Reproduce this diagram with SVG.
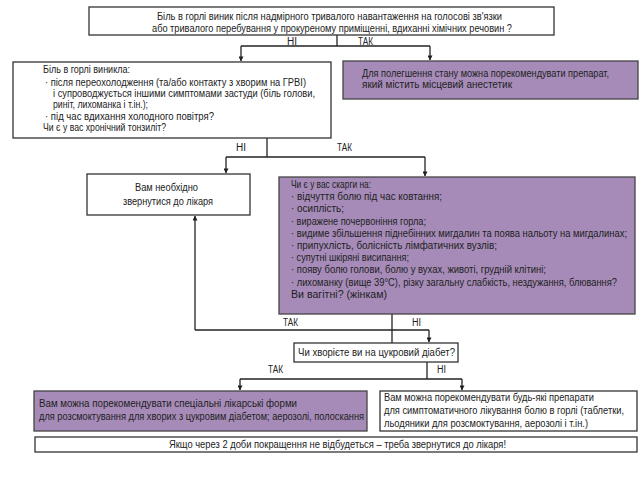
<svg xmlns="http://www.w3.org/2000/svg" width="640" height="479" viewBox="0 0 640 479">
<style>
.box{fill:#fff;stroke:#333;stroke-width:1.3}
.pbox{fill:#a68bb8;stroke:#444;stroke-width:1.3}
text{font-family:"Liberation Sans Narrow","Liberation Sans",Arial,sans-serif;font-size:10px;fill:#222}
.lbl{font-size:10px}
.ln{fill:none;stroke:#222;stroke-width:1.3}
</style>
<defs>
<marker id="ah" viewBox="0 0 6 6" refX="5.5" refY="3" markerWidth="5" markerHeight="5" orient="auto" markerUnits="userSpaceOnUse">
<path d="M0,0 L6,3 L0,6 z" fill="#222"/>
</marker>
</defs>
<rect width="640" height="479" fill="#fff"/>
<g id="connectors">
<path class="ln" d="M337,35 V46"/>
<path class="ln" d="M241,46 H430"/>
<path class="ln" d="M241,46 V61" marker-end="url(#ah)"/>
<path class="ln" d="M430,46 V60" marker-end="url(#ah)"/>
<path class="ln" d="M267,138 V157"/>
<path class="ln" d="M226,157 H425"/>
<path class="ln" d="M226,157 V173" marker-end="url(#ah)"/>
<path class="ln" d="M425,157 V176" marker-end="url(#ah)"/>
<path class="ln" d="M392,314 V343"/>
<path class="ln" d="M195,330 H429"/>
<path class="ln" d="M195,330 V216" marker-end="url(#ah)"/>
<path class="ln" d="M429,330 V342" marker-end="url(#ah)"/>
<path class="ln" d="M427,362 V379"/>
<path class="ln" d="M240,379 H462"/>
<path class="ln" d="M240,379 V390" marker-end="url(#ah)"/>
<path class="ln" d="M462,379 V390" marker-end="url(#ah)"/>
<text class="lbl" x="287" y="45" textLength="10" lengthAdjust="spacingAndGlyphs">НІ</text>
<text class="lbl" x="358" y="45" textLength="15" lengthAdjust="spacingAndGlyphs">ТАК</text>
<text class="lbl" x="236" y="151" textLength="10" lengthAdjust="spacingAndGlyphs">НІ</text>
<text class="lbl" x="337" y="151" textLength="15" lengthAdjust="spacingAndGlyphs">ТАК</text>
<text class="lbl" x="283" y="326" textLength="15" lengthAdjust="spacingAndGlyphs">ТАК</text>
<text class="lbl" x="412" y="326" textLength="9" lengthAdjust="spacingAndGlyphs">НІ</text>
<text class="lbl" x="268" y="373" textLength="15" lengthAdjust="spacingAndGlyphs">ТАК</text>
<text class="lbl" x="437" y="373" textLength="9" lengthAdjust="spacingAndGlyphs">НІ</text>
</g>
<g id="q1">
<rect class="box" x="89" y="7" width="465" height="28"/>
<text x="157" y="20" textLength="345" lengthAdjust="spacingAndGlyphs">Біль в горлі виник після надмірного тривалого навантаження на голосові зв'язки</text>
<text x="152" y="32" textLength="360" lengthAdjust="spacingAndGlyphs">або тривалого перебування у прокуреному приміщенні, вдиханні хімічних речовин ?</text>
</g>
<g id="anesthetic">
<rect class="pbox" x="343" y="61" width="295" height="38"/>
<text x="362" y="77" textLength="247" lengthAdjust="spacingAndGlyphs">Для полегшення стану можна порекомендувати препарат,</text>
<text x="362" y="88" textLength="150" lengthAdjust="spacingAndGlyphs">який містить місцевий анестетик</text>
</g>
<g id="q2">
<rect class="box" x="13" y="62" width="318" height="76"/>
<text x="43" y="73" textLength="87" lengthAdjust="spacingAndGlyphs">Біль в горлі виникла:</text>
<text x="45" y="86" textLength="261" lengthAdjust="spacingAndGlyphs">· після переохолодження (та/або контакту з хворим на ГРВІ)</text>
<text x="53" y="97" textLength="262" lengthAdjust="spacingAndGlyphs">і супроводжується іншими симптомами застуди (біль голови,</text>
<text x="53" y="108" textLength="95" lengthAdjust="spacingAndGlyphs">риніт, лихоманка і т.ін.);</text>
<text x="45" y="120" textLength="169" lengthAdjust="spacingAndGlyphs">· під час вдихання холодного повітря?</text>
<text x="43" y="131" textLength="123" lengthAdjust="spacingAndGlyphs">Чи є у вас хронічний тонзиліт?</text>
</g>
<g id="doctor">
<rect class="box" x="87" y="174" width="163" height="41"/>
<text x="135" y="191" textLength="63" lengthAdjust="spacingAndGlyphs">Вам необхідно</text>
<text x="123" y="205" textLength="90" lengthAdjust="spacingAndGlyphs">звернутися до лікаря</text>
</g>
<g id="q3">
<rect class="pbox" x="279" y="177" width="356" height="137"/>
<text x="291" y="188" textLength="80" lengthAdjust="spacingAndGlyphs">Чи є у вас скарги на:</text>
<text x="291" y="200" textLength="151" lengthAdjust="spacingAndGlyphs">· відчуття болю під час ковтання;</text>
<text x="291" y="212" textLength="53" lengthAdjust="spacingAndGlyphs">· осиплість;</text>
<text x="291" y="225" textLength="135" lengthAdjust="spacingAndGlyphs">· виражене почервоніння горла;</text>
<text x="291" y="237" textLength="336" lengthAdjust="spacingAndGlyphs">· видиме збільшення піднебінних мигдалин та поява нальоту на мигдалинах;</text>
<text x="291" y="249" textLength="206" lengthAdjust="spacingAndGlyphs">· припухлість, болісність лімфатичних вузлів;</text>
<text x="291" y="261" textLength="118" lengthAdjust="spacingAndGlyphs">· супутні шкіряні висипання;</text>
<text x="291" y="273" textLength="255" lengthAdjust="spacingAndGlyphs">· появу болю голови, болю у вухах, животі, грудній клітині;</text>
<text x="291" y="286" textLength="326" lengthAdjust="spacingAndGlyphs">· лихоманку (вище 39°С), різку загальну слабкість, нездужання, блювання?</text>
<text x="291" y="298" textLength="96" lengthAdjust="spacingAndGlyphs">Ви вагітні? (жінкам)</text>
</g>
<g id="q4">
<rect class="box" x="294" y="343" width="164" height="19"/>
<text x="298" y="356" textLength="157" lengthAdjust="spacingAndGlyphs">Чи хворієте ви на цукровий діабет?</text>
</g>
<g id="diabetic">
<rect class="pbox" x="34" y="391" width="333" height="40"/>
<text x="39" y="407" textLength="258" lengthAdjust="spacingAndGlyphs">Вам можна порекомендувати спеціальні лікарські форми</text>
<text x="39" y="420" textLength="325" lengthAdjust="spacingAndGlyphs">для розсмоктування для хворих з цукровим діабетом; аерозолі, полоскання</text>
</g>
<g id="any">
<rect class="box" x="380" y="391" width="257" height="40"/>
<text x="384" y="401" textLength="210" lengthAdjust="spacingAndGlyphs">Вам можна порекомендувати будь-які препарати</text>
<text x="384" y="414" textLength="240" lengthAdjust="spacingAndGlyphs">для симптоматичного лікування болю в горлі (таблетки,</text>
<text x="384" y="427" textLength="204" lengthAdjust="spacingAndGlyphs">льодяники для розсмоктування, аерозолі і т.ін.)</text>
</g>
<g id="footer">
<rect class="box" x="35" y="437" width="602" height="15"/>
<text x="169" y="448" textLength="337" lengthAdjust="spacingAndGlyphs">Якщо через 2 доби покращення не відбудеться – треба звернутися до лікаря!</text>
</g>
</svg>
